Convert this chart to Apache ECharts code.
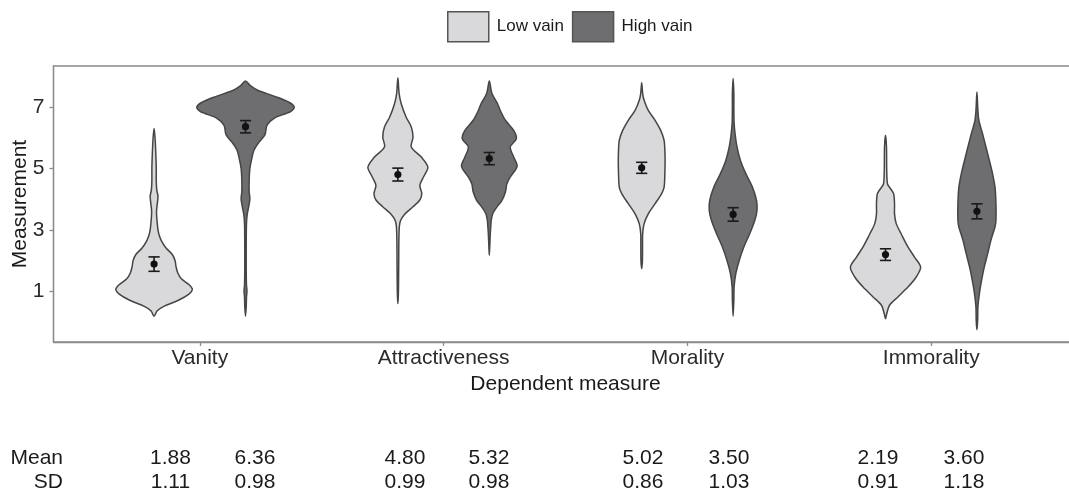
<!DOCTYPE html>
<html><head><meta charset="utf-8">
<script src="https://cdn.jsdelivr.net/npm/echarts@6/dist/echarts.min.js"></script>
<style>html,body{margin:0;padding:0;background:#fff}#c{width:1069px;height:494px}</style>
</head><body><div id="c"></div>
<script>
// ---------- data ----------
const categories = ['Vanity', 'Attractiveness', 'Morality', 'Immorality'];
const groups = ['Low vain', 'High vain'];
const yTicks = [1, 3, 5, 7];
const meanLow = [1.88, 4.80, 5.02, 2.19];
const meanHigh = [6.36, 5.32, 3.50, 3.60];
const sdLow = [1.11, 0.99, 0.86, 0.91];
const sdHigh = [0.98, 0.98, 1.03, 1.18];
const ciHalfLow = [0.235, 0.21, 0.18, 0.19];
const ciHalfHigh = [0.20, 0.20, 0.22, 0.245];

// violin profiles: [measurement, half-width in category units]
const vanityLow = [[0.18,0],[0.35,0.012],[0.5,0.04],[0.7,0.1],[0.9,0.143],[1.05,0.157],[1.2,0.145],[1.4,0.112],[1.6,0.097],[1.8,0.09],[2.0,0.086],[2.2,0.074],[2.4,0.05],[2.6,0.033],[2.8,0.022],[3.0,0.016],[3.3,0.012],[3.6,0.01],[3.9,0.014],[4.1,0.016],[4.3,0.011],[4.6,0.009],[5.0,0.009],[5.5,0.007],[6.0,0.004],[6.3,0]];
const vanityHigh = [[0.18,0],[0.5,0.003],[0.8,0.004],[1.0,0.006],[1.2,0.004],[1.6,0.003],[2.5,0.003],[3.2,0.004],[3.5,0.007],[3.75,0.013],[4.0,0.018],[4.25,0.015],[4.6,0.015],[5.0,0.018],[5.3,0.025],[5.6,0.035],[5.85,0.055],[6.1,0.08],[6.4,0.088],[6.65,0.12],[6.85,0.185],[7.0,0.2],[7.15,0.18],[7.35,0.12],[7.55,0.05],[7.7,0.02],[7.85,0]];
const attrLow = [[0.59,0],[0.9,0.002],[1.5,0.003],[2.0,0.0035],[2.6,0.004],[3.1,0.006],[3.3,0.011],[3.5,0.027],[3.75,0.062],[3.97,0.09],[4.18,0.098],[4.45,0.09],[4.72,0.105],[5.04,0.123],[5.37,0.096],[5.7,0.055],[6.02,0.062],[6.35,0.055],[6.67,0.034],[7.1,0.014],[7.45,0.005],[7.96,0]];
const attrHigh = [[2.17,0],[2.5,0.002],[2.87,0.004],[3.1,0.006],[3.31,0.008],[3.52,0.014],[3.74,0.031],[3.96,0.052],[4.23,0.066],[4.5,0.072],[4.72,0.086],[5.07,0.114],[5.37,0.1],[5.7,0.086],[5.97,0.111],[6.24,0.1],[6.57,0.066],[6.89,0.045],[7.11,0.034],[7.44,0.011],[7.85,0]];
const moralLow = [[1.73,0],[2.0,0.003],[2.5,0.0035],[2.87,0.004],[3.2,0.01],[3.52,0.027],[3.85,0.055],[4.18,0.082],[4.39,0.092],[4.83,0.095],[5.26,0.096],[5.59,0.095],[5.91,0.092],[6.24,0.078],[6.57,0.055],[6.89,0.027],[7.22,0.01],[7.44,0.004],[7.79,0]];
const moralHigh = [[0.18,0],[0.7,0.003],[1.13,0.004],[1.57,0.011],[2.0,0.025],[2.44,0.044],[2.87,0.068],[3.31,0.089],[3.63,0.098],[3.96,0.096],[4.39,0.079],[4.83,0.052],[5.26,0.03],[5.7,0.016],[6.13,0.008],[6.5,0.004],[7.0,0.003],[7.44,0.003],[7.93,0]];
const immoralLow = [[0.1,0],[0.26,0.005],[0.53,0.016],[0.81,0.051],[1.13,0.092],[1.46,0.126],[1.78,0.144],[2.11,0.119],[2.44,0.092],[2.87,0.064],[3.2,0.044],[3.52,0.037],[3.85,0.037],[4.18,0.033],[4.39,0.016],[4.5,0.008],[4.94,0.005],[5.7,0.004],[6.08,0]];
const immoralHigh = [[-0.26,0],[0.05,0.003],[0.48,0.004],[0.92,0.01],[1.35,0.019],[1.78,0.03],[2.22,0.044],[2.65,0.057],[3.09,0.074],[3.31,0.078],[3.85,0.078],[4.39,0.074],[4.83,0.064],[5.26,0.051],[5.7,0.037],[6.13,0.023],[6.57,0.008],[6.89,0.004],[7.49,0]];

const profilesLow = [vanityLow, attrLow, moralLow, immoralLow];
const profilesHigh = [vanityHigh, attrHigh, moralHigh, immoralHigh];

// ---------- style / layout ----------
const FONT = '"Liberation Sans", Arial, Helvetica, sans-serif';
const fillLow = '#d9d9db';
const fillHigh = '#6e6e71';
const outline = '#454545';
const frame = '#8a8a8a';
const dodge = 0.1875;
const capHalf = 0.023;
const tableColsLow = [170.5, 405, 643, 878];
const tableColsHigh = [255, 489, 729, 964];
const tableRowY = [458.5, 482];
const tableLabelRight = 63;

function makeViolin(profiles, side, fill) {
  return function (params, api) {
    const i = params.dataIndex;
    const prof = profiles[i];
    const xc = i + 1 + side * dodge;
    const pts = [];
    for (let k = 0; k < prof.length; k++) pts.push(api.coord([xc + prof[k][1], prof[k][0]]));
    for (let k = prof.length - 1; k >= 0; k--) {
      if (prof[k][1] > 0) pts.push(api.coord([xc - prof[k][1], prof[k][0]]));
    }
    return {
      type: 'polygon',
      shape: { points: pts, smooth: 0.3 },
      style: { fill: fill, stroke: outline, lineWidth: 1.5 }
    };
  };
}

function makeErr(means, ci, side) {
  return function (params, api) {
    const i = params.dataIndex;
    const xc = i + 1 + side * dodge;
    const top = api.coord([xc, means[i] + ci[i]]);
    const bot = api.coord([xc, means[i] - ci[i]]);
    const mid = api.coord([xc, means[i]]);
    const hw = api.size([capHalf, 0])[0];
    const ls = { stroke: '#1a1a1a', lineWidth: 1.6 };
    return {
      type: 'group',
      children: [
        { type: 'line', shape: { x1: top[0], y1: top[1], x2: bot[0], y2: bot[1] }, style: ls },
        { type: 'line', shape: { x1: top[0] - hw, y1: top[1], x2: top[0] + hw, y2: top[1] }, style: ls },
        { type: 'line', shape: { x1: bot[0] - hw, y1: bot[1], x2: bot[0] + hw, y2: bot[1] }, style: ls },
        { type: 'circle', shape: { cx: mid[0], cy: mid[1], r: 3.6 }, style: { fill: '#111' } }
      ]
    };
  };
}

const tableGraphics = [];
['Mean', 'SD'].forEach((lab, r) => {
  tableGraphics.push({ type: 'text', x: tableLabelRight, y: tableRowY[r],
    style: { text: lab, font: '21px ' + FONT, fill: '#1a1a1a', align: 'right', verticalAlign: 'middle' } });
});
const rowsLow = [meanLow, sdLow], rowsHigh = [meanHigh, sdHigh];
for (let r = 0; r < 2; r++) {
  for (let i = 0; i < categories.length; i++) {
    tableGraphics.push({ type: 'text', x: tableColsLow[i], y: tableRowY[r],
      style: { text: rowsLow[r][i].toFixed(2), font: '21px ' + FONT, fill: '#1a1a1a', align: 'center', verticalAlign: 'middle' } });
    tableGraphics.push({ type: 'text', x: tableColsHigh[i], y: tableRowY[r],
      style: { text: rowsHigh[r][i].toFixed(2), font: '21px ' + FONT, fill: '#1a1a1a', align: 'center', verticalAlign: 'middle' } });
  }
}

const chart = echarts.init(document.getElementById('c'), null, { renderer: 'canvas' });
const catIdx = categories.map((c, i) => [i + 1, 0]);
chart.setOption({
  animation: false,
  backgroundColor: '#ffffff',
  textStyle: { fontFamily: FONT },
  legend: {
    data: [
      { name: groups[0], itemStyle: { color: fillLow, borderColor: '#555', borderWidth: 1.5 } },
      { name: groups[1], itemStyle: { color: fillHigh, borderColor: '#555', borderWidth: 1.5 } }
    ],
    left: 447, top: 11, padding: 0, icon: 'rect', itemWidth: 41, itemHeight: 30, itemGap: 8,
    textStyle: { fontSize: 17, color: '#1a1a1a', fontFamily: FONT, padding: [0, 0, 0, 3] }
  },
  grid: { left: 53.5, top: 66, width: 1024, height: 276, show: true, borderColor: frame, borderWidth: 1.3,
          containLabel: false, outerBoundsMode: 'none' },
  xAxis: {
    type: 'value', min: 0.4, max: 4.6,
    axisLine: { show: true, onZero: false, lineStyle: { color: frame, width: 1.3 } },
    axisTick: { show: true, customValues: [1, 2, 3, 4], length: 4, lineStyle: { color: frame, width: 1.3 } },
    axisLabel: { customValues: [1, 2, 3, 4], formatter: v => categories[Math.round(v) - 1],
                 fontSize: 21, color: '#2b2b2b', margin: 6, fontFamily: FONT },
    splitLine: { show: false },
    name: 'Dependent measure', nameLocation: 'middle', nameGap: 31,
    nameTextStyle: { fontSize: 21, color: '#1a1a1a', fontFamily: FONT }
  },
  yAxis: {
    type: 'value', min: -0.66, max: 8.34,
    axisLine: { show: true, onZero: false, lineStyle: { color: frame, width: 1.3 } },
    axisTick: { show: true, customValues: yTicks, length: 4, lineStyle: { color: frame, width: 1.3 } },
    axisLabel: { customValues: yTicks, fontSize: 21, color: '#2b2b2b', margin: 9, fontFamily: FONT },
    splitLine: { show: false },
    name: 'Measurement', nameLocation: 'middle', nameGap: 23, nameRotate: 90, nameMoveOverlap: false,
    nameTextStyle: { fontSize: 21, color: '#1a1a1a', fontFamily: FONT }
  },
  series: [
    { name: groups[0], type: 'custom', data: catIdx, renderItem: makeViolin(profilesLow, -1, fillLow),
      itemStyle: { color: fillLow, borderColor: '#555', borderWidth: 1.5 }, z: 2 },
    { name: groups[1], type: 'custom', data: catIdx, renderItem: makeViolin(profilesHigh, 1, fillHigh),
      itemStyle: { color: fillHigh, borderColor: '#555', borderWidth: 1.5 }, z: 2 },
    { name: 'ciLow', type: 'custom', data: catIdx, renderItem: makeErr(meanLow, ciHalfLow, -1), z: 3 },
    { name: 'ciHigh', type: 'custom', data: catIdx, renderItem: makeErr(meanHigh, ciHalfHigh, 1), z: 3 }
  ],
  graphic: tableGraphics
});
</script></body></html>
